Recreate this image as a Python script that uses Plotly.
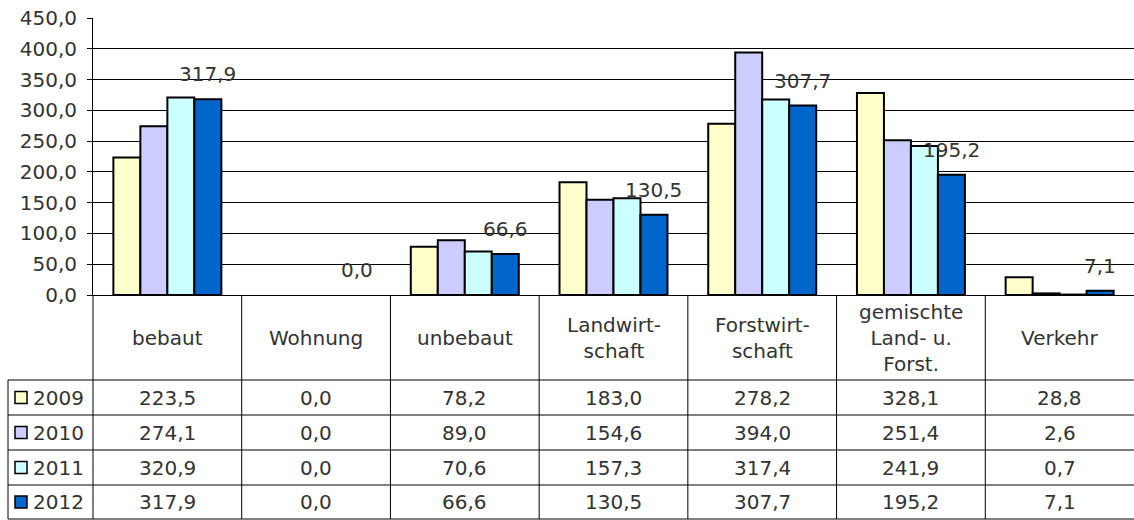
import plotly.graph_objects as go

# ---------------- data ----------------
categories = ["bebaut", "Wohnung", "unbebaut", "Landwirt-<br>schaft",
              "Forstwirt-<br>schaft", "gemischte<br>Land- u.<br>Forst.", "Verkehr"]
years = ["2009", "2010", "2011", "2012"]
v2009 = [223.5, 0.0, 78.2, 183.0, 278.2, 328.1, 28.8]
v2010 = [274.1, 0.0, 89.0, 154.6, 394.0, 251.4, 2.6]
v2011 = [320.9, 0.0, 70.6, 157.3, 317.4, 241.9, 0.7]
v2012 = [317.9, 0.0, 66.6, 130.5, 307.7, 195.2, 7.1]
y_ticks = [0, 50, 100, 150, 200, 250, 300, 350, 400, 450]

series = [v2009, v2010, v2011, v2012]
colors = ["#FFFFCC", "#CCCCFF", "#CCFFFF", "#0066CC"]

# ---------------- layout constants (pixels) ----------------
W, H = 1134, 520
L, R, T, B = 93, 0, 18, 225
PLOT_W = W - L - R
PLOT_H = H - T - B
AXIS_Y = T + PLOT_H              # pixel row of the x axis
HEADER_BOTTOM = 380
ROW_LINES = [380, 415, 450, 485, 519]
LEGEND_LEFT = 8
BARGAP = 0.274
FONT = "DejaVu Sans, Verdana, sans-serif"
TXT = "#333333"
FS = 20


def py(p):
    return (AXIS_Y - p) / PLOT_H


def px(p):
    return (p - L) / PLOT_W


def fmt(v):
    return f"{v:.1f}".replace(".", ",")


fig = go.Figure()
for name, vals, col in zip(years, series, colors):
    fig.add_trace(go.Bar(
        x=categories, y=vals, name=name,
        marker=dict(color=col, line=dict(color="#000000",
                                         width=[0 if v == 0 else 2 for v in vals])),
        showlegend=False, hoverinfo="skip"))

shapes = []
annotations = []

# table horizontal lines
for yl in ROW_LINES:
    shapes.append(dict(type="line", xref="paper", yref="paper",
                       x0=px(LEGEND_LEFT), x1=1.0, y0=py(yl), y1=py(yl),
                       line=dict(color="#000000", width=1)))
# legend column left border
shapes.append(dict(type="line", xref="paper", yref="paper",
                   x0=px(LEGEND_LEFT), x1=px(LEGEND_LEFT),
                   y0=py(HEADER_BOTTOM), y1=py(ROW_LINES[-1]),
                   line=dict(color="#000000", width=1)))
# category column borders
n = len(categories)
for k in range(n):
    shapes.append(dict(type="line", xref="paper", yref="paper",
                       x0=k / n, x1=k / n, y0=0, y1=py(ROW_LINES[-1]),
                       line=dict(color="#000000", width=1)))

# header labels
for c in categories:
    annotations.append(dict(x=c, xref="x", y=py((AXIS_Y + HEADER_BOTTOM) / 2), yref="paper",
                            text=c, showarrow=False, xanchor="center", yanchor="middle",
                            font=dict(family=FONT, size=FS, color=TXT)))

# data rows + legend
for r, (name, vals, col) in enumerate(zip(years, series, colors)):
    yc = (ROW_LINES[r] + ROW_LINES[r + 1]) / 2
    for c, v in zip(categories, vals):
        annotations.append(dict(x=c, xref="x", y=py(yc), yref="paper",
                                text=fmt(v), showarrow=False, xanchor="center", yanchor="middle",
                                font=dict(family=FONT, size=FS, color=TXT)))
    shapes.append(dict(type="rect", xref="paper", yref="paper",
                       x0=px(15), x1=px(27), y0=py(yc + 6), y1=py(yc - 6),
                       fillcolor=col, line=dict(color="#000000", width=1.5)))
    annotations.append(dict(x=px(31), xref="paper", y=py(yc), yref="paper",
                            text=name, showarrow=False, xanchor="left", yanchor="middle",
                            font=dict(family=FONT, size=FS, color=TXT)))

# data labels for the 2012 series
bw = (1 - BARGAP) / len(series)
off = -(1 - BARGAP) / 2 + 3.5 * bw
for i, v in enumerate(v2012):
    annotations.append(dict(x=i + off, xref="x", y=v, yref="y",
                            text=fmt(v), showarrow=False, xanchor="center", yanchor="middle",
                            yshift=25, font=dict(family=FONT, size=FS, color=TXT)))

fig.update_layout(
    width=W, height=H,
    margin=dict(l=L, r=R, t=T, b=B, pad=0),
    paper_bgcolor="#FFFFFF", plot_bgcolor="#FFFFFF",
    barmode="group", bargap=BARGAP, bargroupgap=0,
    separators=",.",
    font=dict(family=FONT, size=FS, color=TXT),
    shapes=shapes, annotations=annotations,
    xaxis=dict(showticklabels=False, showgrid=False, showline=True,
               linecolor="#000000", linewidth=1, ticks="", range=[-0.5, n - 0.5],
               fixedrange=True),
    yaxis=dict(range=[0, 450], tickvals=y_ticks, tickformat=".1f",
               showgrid=True, gridcolor="#000000", gridwidth=1,
               showline=True, linecolor="#000000", linewidth=1,
               ticks="outside", ticklen=5, tickcolor="#000000",
               ticklabelstandoff=6, zeroline=False,
               tickfont=dict(family=FONT, size=FS, color=TXT), fixedrange=True),
)

fig.write_html("out.html")
